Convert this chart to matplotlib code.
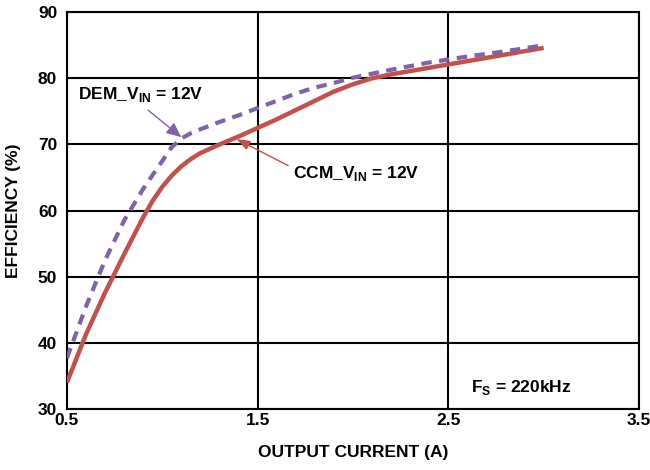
import matplotlib
matplotlib.use('Agg')
import matplotlib.pyplot as plt

plt.rcParams['font.family'] = ['Liberation Sans', 'DejaVu Sans']
plt.rcParams['font.weight'] = 'bold'
plt.rcParams['mathtext.fontset'] = 'custom'
plt.rcParams['mathtext.rm'] = 'Liberation Sans:bold'
plt.rcParams['mathtext.bf'] = 'Liberation Sans:bold'

# efficiency curves
ccm_current = [0.5, 0.6, 0.7, 0.8, 0.9, 0.95, 1.0, 1.05, 1.1, 1.15, 1.2, 1.3, 1.4,
               1.5, 1.6, 1.7, 1.8, 1.9, 2.0, 2.1, 2.2, 2.4, 2.6, 2.8, 3.0]
ccm_eff = [34.0, 41.3, 47.6, 53.4, 59.0, 61.5, 63.6, 65.3, 66.7, 67.8, 68.7, 70.0,
           71.2, 72.5, 73.8, 75.2, 76.6, 78.0, 79.1, 80.0, 80.6, 81.6, 82.6, 83.6, 84.6]

dem_current = [0.5, 0.6, 0.7, 0.8, 0.9, 1.0, 1.05, 1.1, 1.15, 1.2, 1.3, 1.4, 1.5,
               1.6, 1.7, 1.8, 1.9, 2.0, 2.2, 2.4, 2.6, 2.8, 3.0]
dem_eff = [37.7, 45.5, 52.5, 58.5, 63.3, 67.5, 69.6, 70.9, 71.7, 72.3, 73.4, 74.4,
           75.5, 76.6, 77.7, 78.6, 79.3, 80.1, 81.3, 82.4, 83.3, 84.1, 85.0]

x_ticks = [0.5, 1.5, 2.5, 3.5]
y_ticks = [30, 40, 50, 60, 70, 80, 90]

red = '#c4504c'
purple = '#7f62a8'
fs = 12.5

fig = plt.figure(figsize=(6.5, 4.7), dpi=100)
ax = fig.add_axes([0.103, 0.130, 0.880, 0.844])

ax.plot(ccm_current, ccm_eff, color=red, lw=3.2, solid_capstyle='butt',
        solid_joinstyle='round', zorder=3)
ax.plot(dem_current, dem_eff, color=purple, lw=3.0, dashes=(2.5, 1.8),
        dash_capstyle='butt', zorder=4)

ax.set_xlim(0.5, 3.5)
ax.set_ylim(30, 90)
ax.set_xticks(x_ticks)
ax.set_xticklabels(['0.5', '1.5', '2.5', '3.5'])
ax.set_yticks(y_ticks)
ax.grid(True, color='black', lw=1.5)
ax.set_axisbelow(True)
for s in ax.spines.values():
    s.set_linewidth(1.5)
ax.tick_params(length=0, labelsize=fs, pad=7)
ax.tick_params(axis='x', pad=3)

ax.set_xlabel('OUTPUT CURRENT (A)', fontsize=fs, fontweight='bold', labelpad=12)
ax.set_ylabel('EFFICIENCY (%)', fontsize=fs, fontweight='bold', labelpad=12)

# annotations
ax.text(0.558, 76.8, r'DEM_V$_{\mathrm{IN}}$ = 12V', fontsize=fs,
        fontweight='bold', va='baseline', ha='left')
ax.annotate('', xy=(1.10, 71.1), xytext=(0.925, 75.2),
            arrowprops=dict(arrowstyle='-|>,head_length=0.9,head_width=0.4',
                            color=purple, lw=1.0, shrinkA=0, shrinkB=0))
ax.text(1.685, 65.0, r'CCM_V$_{\mathrm{IN}}$ = 12V', fontsize=fs,
        fontweight='bold', va='baseline', ha='left')
ax.annotate('', xy=(1.39, 70.8), xytext=(1.66, 66.8),
            arrowprops=dict(arrowstyle='-|>,head_length=0.8,head_width=0.3',
                            color=red, lw=1.0, shrinkA=0, shrinkB=0))
ax.text(2.62, 32.6, r'F$_{\mathrm{S}}$ = 220kHz', fontsize=fs,
        fontweight='bold', va='baseline', ha='left')

fig.savefig('out.png', dpi=100)
